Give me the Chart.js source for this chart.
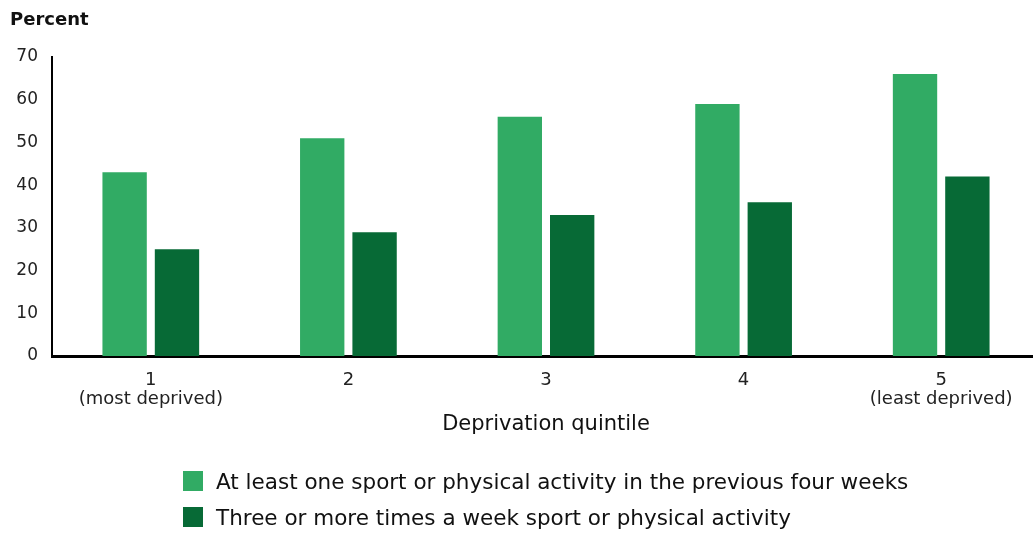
<!DOCTYPE html>
<html>
<head>
<meta charset="utf-8">
<script src="https://cdn.jsdelivr.net/npm/chart.js@4/dist/chart.umd.min.js"></script>
<style>
  html, body { margin: 0; padding: 0; background: #fff; overflow: hidden; }
  #wrap { position: relative; width: 1033px; height: 534px; overflow: hidden; }
  #chart { position: absolute; left: 0; top: 0; }
  #legend { position: absolute; left: 183px; top: 463px; font-family: "DejaVu Sans", sans-serif; font-size: 21.5px; color: #111; }
  .li { display: flex; align-items: center; height: 36px; }
  .sw { width: 20px; height: 20px; margin-right: 13px; flex: none; }
</style>
</head>
<body>
<div id="wrap">
  <canvas id="chart" width="1040" height="534"></canvas>
  <div id="legend"></div>
</div>
<script>
const categories = [["1", "(most deprived)"], "2", "3", "4", ["5", "(least deprived)"]];
const seriesNames = [
  "At least one sport or physical activity in the previous four weeks",
  "Three or more times a week sport or physical activity"
];
const atLeastOne = [43, 51, 56, 59, 66];
const threeOrMore = [25, 29, 33, 36, 42];
const yTicks = [0, 10, 20, 30, 40, 50, 60, 70];
const colors = ["#31AB64", "#076A36"];

const FONT = "'DejaVu Sans', sans-serif";

const chart = new Chart(document.getElementById('chart'), {
  type: 'bar',
  data: {
    labels: categories,
    datasets: [
      { label: seriesNames[0], data: atLeastOne, backgroundColor: colors[0], barPercentage: 0.847, categoryPercentage: 0.53 },
      { label: seriesNames[1], data: threeOrMore, backgroundColor: colors[1], barPercentage: 0.847, categoryPercentage: 0.53 }
    ]
  },
  options: {
    responsive: false,
    animation: false,
    layout: { padding: { left: 10, right: 0, top: 0, bottom: 97 } },
    plugins: {
      legend: { display: false },
      tooltip: { enabled: false },
      title: {
        display: true,
        text: 'Percent',
        align: 'start',
        color: '#111',
        font: { family: FONT, size: 18, weight: 'bold', lineHeight: 1.2 },
        padding: { top: 9.2, bottom: 26.2 }
      }
    },
    scales: {
      x: {
        afterFit: s => { s.height = 81; },
        grid: { display: false, drawTicks: false },
        border: { display: true, color: '#000', width: 3 },
        ticks: { color: '#222', font: { family: FONT, size: 18, lineHeight: 1.1 }, padding: 14, maxRotation: 0, autoSkip: false },
        title: { display: true, text: 'Deprivation quintile', color: '#111', font: { family: FONT, size: 21, lineHeight: 1.2 }, padding: 0 }
      },
      y: {
        min: 0,
        max: 70,
        afterFit: s => { s.width = 42; },
        afterBuildTicks: s => { s.ticks = yTicks.map(v => ({ value: v })); },
        grid: { display: false, drawTicks: false },
        border: { display: true, color: '#000', width: 2 },
        ticks: { color: '#222', font: { family: FONT, size: 17 }, padding: 14 }
      }
    }
  }
});

const leg = document.getElementById('legend');
chart.data.datasets.forEach(ds => {
  const row = document.createElement('div');
  row.className = 'li';
  const sw = document.createElement('div');
  sw.className = 'sw';
  sw.style.background = ds.backgroundColor;
  const t = document.createElement('span');
  t.textContent = ds.label;
  row.appendChild(sw);
  row.appendChild(t);
  leg.appendChild(row);
});
</script>
</body>
</html>
